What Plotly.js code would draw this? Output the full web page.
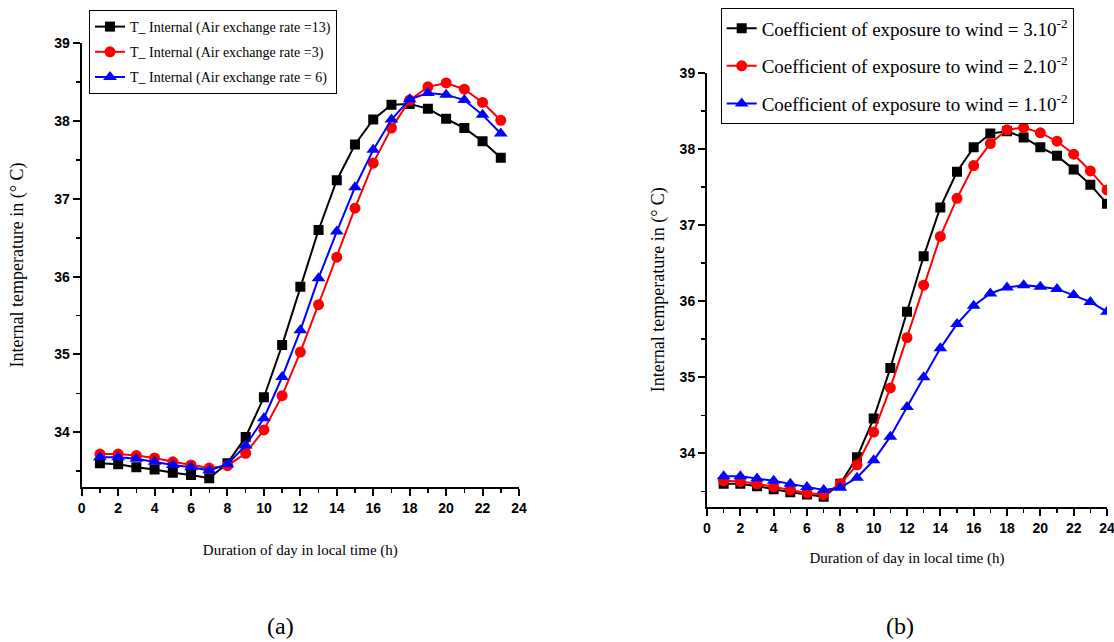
<!DOCTYPE html>
<html>
<head>
<meta charset="utf-8">
<script src="https://cdn.plot.ly/plotly-3.0.1.min.js"></script>
<style>html,body{margin:0;padding:0;background:#fff}#chart{width:1114px;height:642px}</style>
</head>
<body>
<div id="chart"></div>
<script>
// Panel (a): air exchange rate
const hoursA = [1,2,3,4,5,6,7,8,9,10,11,12,13,14,15,16,17,18,19,20,21,22,23];
const tRate13 = [33.60,33.59,33.55,33.52,33.48,33.45,33.41,33.60,33.94,34.45,35.12,35.87,36.60,37.24,37.70,38.02,38.21,38.22,38.16,38.03,37.91,37.74,37.53];
const tRate3  = [33.72,33.72,33.70,33.67,33.62,33.58,33.54,33.57,33.73,34.03,34.47,35.03,35.64,36.25,36.88,37.46,37.91,38.27,38.44,38.49,38.41,38.24,38.01];
const tRate6  = [33.68,33.68,33.66,33.62,33.58,33.55,33.51,33.59,33.83,34.18,34.71,35.31,35.98,36.58,37.15,37.63,38.02,38.28,38.36,38.34,38.27,38.08,37.84];
const namesA = ["T_ Internal (Air exchange rate =13)","T_ Internal (Air exchange rate =3)","T_ Internal (Air exchange rate = 6)"];

// Panel (b): coefficient of exposure to wind
const hoursB = [1,2,3,4,5,6,7,8,9,10,11,12,13,14,15,16,17,18,19,20,21,22,23,24];
const tWind3 = [33.60,33.60,33.57,33.53,33.49,33.46,33.43,33.60,33.95,34.46,35.12,35.86,36.59,37.23,37.70,38.02,38.20,38.23,38.15,38.02,37.91,37.73,37.53,37.28];
const tWind2 = [33.64,33.63,33.60,33.56,33.52,33.48,33.46,33.60,33.85,34.28,34.86,35.52,36.21,36.85,37.35,37.78,38.07,38.25,38.28,38.21,38.10,37.93,37.71,37.46];
const tWind1 = [33.70,33.70,33.67,33.64,33.60,33.56,33.52,33.55,33.68,33.91,34.22,34.61,35.00,35.38,35.70,35.94,36.10,36.18,36.21,36.19,36.16,36.08,35.99,35.86];
const namesB = ["Coefficient of exposure to wind = 3.10<sup>-2</sup>","Coefficient of exposure to wind = 2.10<sup>-2</sup>","Coefficient of exposure to wind = 1.10<sup>-2</sup>"];

const xTitle = "Duration of day in local time (h)";
const yTitle = "Internal temperature in (° C)";

const colors = ["#000000","#ff0000","#0000ff"];
const symbols = ["square","circle","triangle-up"];
const sizes = [10,11,12];

function mk(x, y, i, name, xa, ya, leg, grp){
  return {x:x, y:y, name:name, type:"scatter", mode:"lines+markers",
    xaxis:xa, yaxis:ya, legend:leg, legendgroup:grp,
    line:{color:colors[i], width:2},
    marker:{color:colors[i], symbol:symbols[i], size:sizes[i]}};
}

const data = [
  mk(hoursA, tRate13, 0, namesA[0], "x", "y", "legend", "a0"),
  mk(hoursA, tRate3, 1, namesA[1], "x", "y", "legend", "a1"),
  mk(hoursA, tRate6, 2, namesA[2], "x", "y", "legend", "a2"),
  mk(hoursB, tWind3, 0, namesB[0], "x2", "y2", "legend2", "b0"),
  mk(hoursB, tWind2, 1, namesB[1], "x2", "y2", "legend2", "b1"),
  mk(hoursB, tWind1, 2, namesB[2], "x2", "y2", "legend2", "b2")
];

const tickFont = {family:"Liberation Sans Narrow, Arial Narrow, Liberation Sans, Arial", size:14, color:"#000", weight:"bold"};
const titleFont = {family:"Liberation Serif, Times New Roman, serif", size:15, color:"#000"};
const yTitleFont = {family:"Liberation Serif, Times New Roman, serif", size:18, color:"#000"};
const serif = "Liberation Serif, Times New Roman, serif";

function xax(domain, anchor, standoff){
  return {domain:domain, anchor:anchor, range:[0,24], dtick:2, tick0:0,
    showline:true, linecolor:"#000", linewidth:2, ticks:"outside", ticklen:7, tickwidth:2, tickcolor:"#000",
    minor:{dtick:1, ticks:"outside", ticklen:4, tickwidth:1.5, tickcolor:"#000"},
    showgrid:false, zeroline:false, tickfont:tickFont, automargin:false, ticklabeloverflow:"allow",
    title:{text:xTitle, font:titleFont, standoff:standoff}};
}
function yax(domain, anchor, standoff){
  return {domain:domain, anchor:anchor, range:[33.3,39], dtick:1, tick0:34,
    showline:true, linecolor:"#000", linewidth:2, ticks:"outside", ticklen:7, tickwidth:2, tickcolor:"#000",
    minor:{dtick:0.5, ticks:"outside", ticklen:4, tickwidth:1.5, tickcolor:"#000"},
    showgrid:false, zeroline:false, tickfont:tickFont, automargin:false, ticklabeloverflow:"allow",
    title:{text:yTitle, font:yTitleFont, standoff:standoff}};
}

const layout = {
  width:1114, height:642,
  margin:{l:0, r:0, t:0, b:0},
  paper_bgcolor:"#fff", plot_bgcolor:"#fff",
  showlegend:true,
  xaxis: xax([81.7/1114, 519/1114], "y", 30),
  yaxis: yax([1-486.7/642, 1-43.3/642], "x", 26),
  xaxis2: xax([707/1114, 1107/1114], "y2", 18),
  yaxis2: yax([1-506.7/642, 1-72.7/642], "x2", 10),
  legend:{x:89/1114, y:1-10/642, xanchor:"left", yanchor:"top",
    bgcolor:"#fff", bordercolor:"#000", borderwidth:1, traceorder:"grouped", tracegroupgap:4,
    font:{family:serif, size:14, color:"#000"}, itemwidth:30},
  legend2:{x:720.7/1114, y:1-8.3/642, xanchor:"left", yanchor:"top",
    bgcolor:"#fff", bordercolor:"#000", borderwidth:1, traceorder:"grouped", tracegroupgap:10,
    font:{family:serif, size:19, color:"#000"}, itemwidth:30},
  annotations:[
    {text:"(a)", x:280/1114, y:1-626/642, xref:"paper", yref:"paper", xanchor:"center", yanchor:"middle", showarrow:false,
     font:{family:serif, size:24, color:"#000"}},
    {text:"(b)", x:900/1114, y:1-626/642, xref:"paper", yref:"paper", xanchor:"center", yanchor:"middle", showarrow:false,
     font:{family:serif, size:24, color:"#000"}}
  ]
};

Plotly.newPlot("chart", data, layout, {displayModeBar:false, staticPlot:true});
</script>
</body>
</html>
